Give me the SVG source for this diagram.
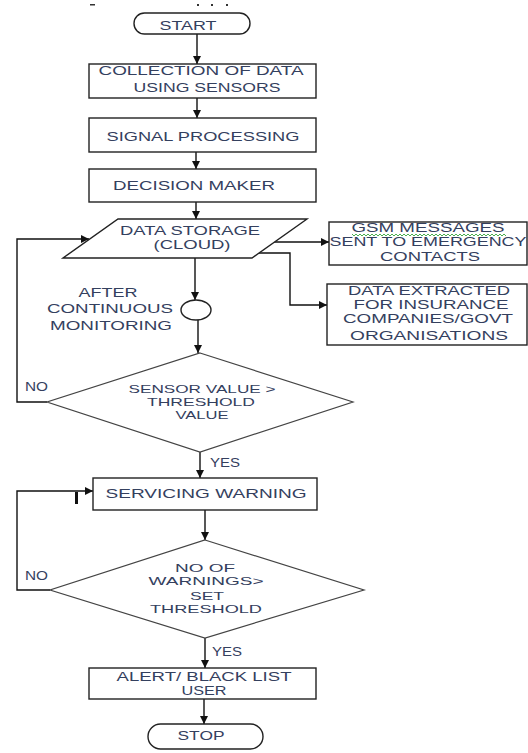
<svg xmlns="http://www.w3.org/2000/svg" width="528" height="753" viewBox="0 0 528 753">
<defs>
<marker id="ah" markerUnits="userSpaceOnUse" markerWidth="9" markerHeight="9" refX="8" refY="4" orient="auto">
<path d="M0,0 L8,4 L0,8 z" fill="#111"/>
</marker>
<style>
.box{fill:#fff;stroke:#222;stroke-width:1.4}
.dia{fill:#fff;stroke:#444;stroke-width:1.2}
.t{font-family:"Liberation Sans",Arial,sans-serif;font-size:13px;fill:#34405e;text-anchor:middle}
.s{font-size:11.5px}
.l{font-family:"Liberation Sans",Arial,sans-serif;font-size:13px;fill:#34405e}
.c{fill:none;stroke:#111;stroke-width:1.4}
</style>
</defs>
<rect width="528" height="753" fill="#fff"/>
<g id="marks" fill="#333">
<rect x="90" y="4" width="5" height="1.5"/>
<rect x="197" y="4" width="2" height="2"/>
<rect x="211" y="4" width="2" height="2"/>
<rect x="226" y="4" width="2" height="2"/>
<rect x="75" y="492" width="3" height="12" fill="#111"/>
</g>
<g id="connectors">
<line class="c" x1="197" y1="34" x2="197" y2="64" marker-end="url(#ah)"/>
<line class="c" x1="197" y1="98" x2="197" y2="118" marker-end="url(#ah)"/>
<line class="c" x1="196" y1="152" x2="196" y2="169" marker-end="url(#ah)"/>
<line class="c" x1="196" y1="202" x2="196" y2="219" marker-end="url(#ah)"/>
<line class="c" x1="274" y1="242" x2="329" y2="242" marker-end="url(#ah)"/>
<polyline class="c" points="258,253 290,253 290,305 327,305" marker-end="url(#ah)"/>
<line class="c" x1="195" y1="258" x2="195" y2="300" marker-end="url(#ah)"/>
<line class="c" x1="198" y1="320" x2="198" y2="353" marker-end="url(#ah)"/>
<polyline class="c" points="47,402 17,402 17,239 89,239" marker-end="url(#ah)"/>
<line class="c" x1="200" y1="452" x2="200" y2="478" marker-end="url(#ah)"/>
<line class="c" x1="205" y1="510" x2="205" y2="540" marker-end="url(#ah)"/>
<polyline class="c" points="50,590 17,590 17,491 93,491" marker-end="url(#ah)"/>
<line class="c" x1="205" y1="638" x2="205" y2="668" marker-end="url(#ah)"/>
<line class="c" x1="204" y1="699" x2="204" y2="724" marker-end="url(#ah)"/>
<text class="l" x="25" y="391" textLength="23" lengthAdjust="spacingAndGlyphs">NO</text>
<text class="l" x="210" y="467" textLength="30" lengthAdjust="spacingAndGlyphs">YES</text>
<text class="l" x="25" y="580" textLength="23" lengthAdjust="spacingAndGlyphs">NO</text>
<text class="l" x="212" y="656" textLength="30" lengthAdjust="spacingAndGlyphs">YES</text>
</g>
<g id="start">
<rect class="box" x="134" y="13" width="116" height="21" rx="10.5"/>
<text class="t" x="188" y="29.5" textLength="57" lengthAdjust="spacingAndGlyphs">START</text>
</g>
<g id="collection">
<rect class="box" x="89" y="64" width="227" height="34"/>
<text class="t" x="201" y="75" textLength="205" lengthAdjust="spacingAndGlyphs">COLLECTION OF DATA</text>
<text class="t" x="207" y="92" textLength="147" lengthAdjust="spacingAndGlyphs">USING SENSORS</text>
</g>
<g id="signal">
<rect class="box" x="89" y="118" width="227" height="34"/>
<text class="t" x="203" y="141" textLength="193" lengthAdjust="spacingAndGlyphs">SIGNAL PROCESSING</text>
</g>
<g id="decision">
<rect class="box" x="89" y="169" width="227" height="33"/>
<text class="t" x="194" y="190" textLength="162" lengthAdjust="spacingAndGlyphs">DECISION MAKER</text>
</g>
<g id="storage">
<polygon class="box" points="118,219 307,219 252,258 63,258"/>
<text class="t" x="190" y="235" textLength="140" lengthAdjust="spacingAndGlyphs">DATA STORAGE</text>
<text class="t" x="192" y="249" textLength="77" lengthAdjust="spacingAndGlyphs">(CLOUD)</text>
</g>
<g id="gsm">
<rect class="box" x="329" y="222" width="198" height="43"/>
<text class="t" x="428" y="232" textLength="153" lengthAdjust="spacingAndGlyphs">GSM  MESSAGES</text>
<polyline fill="none" stroke="#4caf50" stroke-width="1" points="352,234 354,236 356,234 358,236 360,234 362,236 364,234 366,236 368,234 370,236 372,234 374,236 376,234 378,236 380,234 382,236 384,234 386,236 388,234 390,236 392,234 394,236 396,234 398,236 400,234 402,236 404,234 406,236 408,234 410,236 412,234 414,236 416,234 418,236 420,234 422,236 424,234 426,236 428,234 430,236 432,234 434,236 436,234 438,236 440,234 442,236 444,234 446,236 448,234 450,236 452,234 454,236 456,234 458,236 460,234 462,236 464,234 466,236 468,234 470,236 472,234 474,236 476,234 478,236 480,234 482,236 484,234 486,236 488,234 490,236 492,234 494,236 496,234 498,236 500,234 502,236 504,234 506,236"/>
<text class="t" x="428" y="246" textLength="197" lengthAdjust="spacingAndGlyphs">SENT TO EMERGENCY</text>
<text class="t" x="430" y="261" textLength="100" lengthAdjust="spacingAndGlyphs">CONTACTS</text>
</g>
<g id="extracted">
<rect class="box" x="327" y="284" width="200" height="61"/>
<text class="t" x="429" y="295" textLength="162" lengthAdjust="spacingAndGlyphs">DATA EXTRACTED</text>
<text class="t" x="431" y="309" textLength="155" lengthAdjust="spacingAndGlyphs">FOR INSURANCE</text>
<text class="t" x="428" y="323" textLength="170" lengthAdjust="spacingAndGlyphs">COMPANIES/GOVT</text>
<text class="t" x="429" y="340" textLength="158" lengthAdjust="spacingAndGlyphs">ORGANISATIONS</text>
</g>
<g id="monitor">
<ellipse class="box" cx="196" cy="310" rx="15" ry="10"/>
<text class="t" x="108" y="297" textLength="59" lengthAdjust="spacingAndGlyphs">AFTER</text>
<text class="t" x="110" y="313" textLength="126" lengthAdjust="spacingAndGlyphs">CONTINUOUS</text>
<text class="t" x="111" y="330" textLength="122" lengthAdjust="spacingAndGlyphs">MONITORING</text>
</g>
<g id="check1">
<polygon class="dia" points="200,353 353,402 200,452 47,402"/>
<text class="t s" x="202" y="393" textLength="147" lengthAdjust="spacingAndGlyphs">SENSOR VALUE &gt;</text>
<text class="t s" x="201" y="406" textLength="108" lengthAdjust="spacingAndGlyphs">THRESHOLD</text>
<text class="t s" x="202" y="419" textLength="53" lengthAdjust="spacingAndGlyphs">VALUE</text>
</g>
<g id="servicing">
<rect class="box" x="93" y="478" width="224" height="32"/>
<text class="t" x="206" y="498" textLength="201" lengthAdjust="spacingAndGlyphs">SERVICING WARNING</text>
</g>
<g id="check2">
<polygon class="dia" points="205,540 364,590 205,638 50,590"/>
<text class="t s" x="205" y="572" textLength="60" lengthAdjust="spacingAndGlyphs">NO OF</text>
<text class="t s" x="206" y="585" textLength="115" lengthAdjust="spacingAndGlyphs">WARNINGS&gt;</text>
<text class="t s" x="207" y="600" textLength="34" lengthAdjust="spacingAndGlyphs">SET</text>
<text class="t s" x="206" y="613" textLength="112" lengthAdjust="spacingAndGlyphs">THRESHOLD</text>
</g>
<g id="alert">
<rect class="box" x="89" y="668" width="227" height="31"/>
<text class="t" x="204" y="681" textLength="175" lengthAdjust="spacingAndGlyphs">ALERT/ BLACK LIST</text>
<text class="t" x="204" y="695" textLength="45" lengthAdjust="spacingAndGlyphs">USER</text>
</g>
<g id="stop">
<rect class="box" x="148" y="724" width="115" height="25" rx="12.5"/>
<text class="t" x="201" y="740" textLength="47" lengthAdjust="spacingAndGlyphs">STOP</text>
</g>
</svg>
